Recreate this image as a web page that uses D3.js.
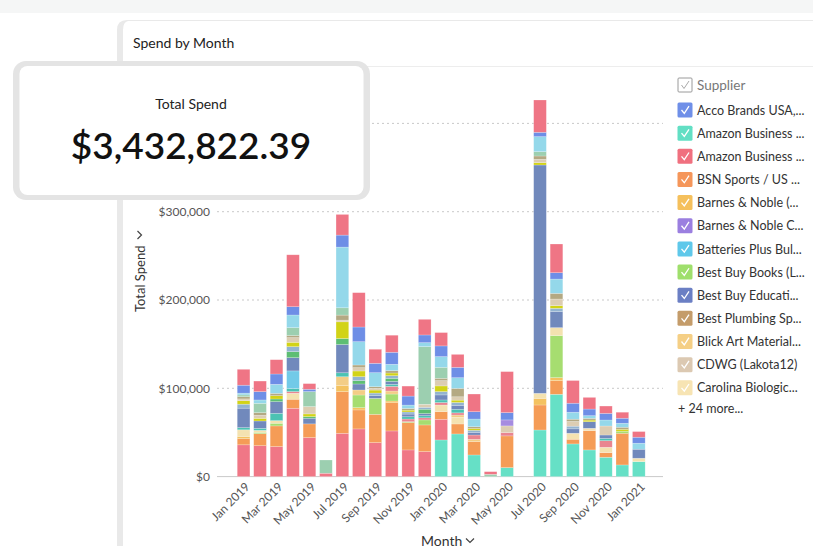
<!DOCTYPE html>
<html>
<head>
<meta charset="utf-8">
<script src="https://cdn.jsdelivr.net/npm/d3@7"></script>
<style>
  html, body { margin: 0; padding: 0; background: #ffffff; }
  svg { display: block; font-family: Lato, "Open Sans", sans-serif; }
</style>
</head>
<body>
<svg id="chart" width="813" height="559"></svg>
<script>
// ---------- DATA ----------
const months = ["Jan 2019","Feb 2019","Mar 2019","Apr 2019","May 2019","Jun 2019","Jul 2019","Aug 2019","Sep 2019","Oct 2019","Nov 2019","Dec 2019",
  "Jan 2020","Feb 2020","Mar 2020","Apr 2020","May 2020","Jun 2020","Jul 2020","Aug 2020","Sep 2020","Oct 2020","Nov 2020","Dec 2020","Jan 2021"];
const tickMonths = ["Jan 2019","Mar 2019","May 2019","Jul 2019","Sep 2019","Nov 2019","Jan 2020","Mar 2020","May 2020","Jul 2020","Sep 2020","Nov 2020","Jan 2021"];
const gridTicks = [0, 100000, 200000, 300000, 400000];
const yTickLabels = [0, 100000, 200000, 300000]; // $400,000 sits behind the KPI card

// series, bottom to top of each stack (US$)
const amazonBusiness1 = [0,0,0,0,0,0,0,0,0,0,0,0,41500,48300,24500,0,10200,0,52800,93200,37000,30200,21900,13200,17000];
const amazonBusiness2 = [36000,35000,34000,77400,44200,3800,49000,54000,38500,51700,30200,28300,23400,0,0,0,0,0,0,0,0,0,0,0,0];
const bsnSports       = [7000,13600,23400,10200,15500,0,47200,21500,32000,32000,31000,30200,8700,11300,15100,0,35900,0,28300,15500,5300,21900,5300,35900,0];
const barnesNoble     = [2500,0,0,0,0,0,6800,2600,0,1900,0,0,0,0,0,0,0,0,7500,3400,0,0,0,0,0];
const bestBuyBooks    = [0,1500,3000,0,0,0,0,14300,18100,7900,1000,5700,0,0,0,0,0,0,0,47600,0,0,0,2300,0];
const carolinaBio     = [7500,2300,3000,6800,0,0,0,0,0,0,0,0,7500,7500,0,0,0,0,5700,9000,6800,2600,6000,0,3800];
const blickArt        = [0,0,0,0,0,0,10100,5700,0,3400,0,0,0,2600,2600,0,0,0,0,0,0,0,0,0,0];
const otherSalmon     = [0,0,0,1900,0,0,0,0,0,5300,3000,2400,2800,2500,4900,0,3800,0,0,0,0,0,7500,0,0];
const otherTeal       = [2500,2300,8300,3400,0,0,4500,0,0,2300,2600,2400,2900,4000,0,0,0,0,0,0,0,0,2600,0,0];
const batteriesPlus   = [0,0,0,20000,0,0,0,0,0,0,0,0,0,0,0,0,0,0,0,0,0,0,0,0,0];
const bestBuyEdu      = [22000,8300,13200,15000,6400,0,32000,6800,3000,3400,3000,2400,5700,4500,3000,0,0,0,258600,18100,5000,7500,3800,0,10200];
const otherGreen      = [0,0,3000,6800,1900,0,6800,3800,0,3400,0,4900,0,0,0,0,0,0,0,0,0,0,0,0,0];
const otherSteel      = [4500,0,0,5700,0,0,0,4500,3000,3000,2400,2200,3800,3300,2400,0,0,0,0,3800,3000,0,0,0,0];
const otherYellow     = [4000,3000,3800,4900,3000,0,18900,6400,3400,3000,2000,0,6400,2600,2000,0,0,0,2600,3000,0,1800,0,2200,0];
const cdwg            = [2000,3400,0,5300,8300,0,1900,3800,2000,0,0,3400,6000,3800,0,0,7500,0,3800,7500,5300,0,10200,0,0];
const bestPlumbing    = [2500,3000,2600,2300,0,0,5700,3000,1800,2700,2000,0,2600,9500,2000,0,0,0,3800,6400,2600,2000,0,2300,0];
const otherSage       = [2000,10600,0,9000,17000,15000,8300,0,0,0,0,65300,12500,0,0,2600,0,0,4900,0,0,0,0,0,0];
const barnesNobleC    = [0,0,0,0,0,0,0,0,0,0,0,0,0,0,0,0,6800,0,0,0,0,0,0,0,0];
const otherSky        = [2000,3800,10200,14300,0,0,68700,26400,15900,7200,3800,4500,12100,12100,8700,0,0,0,17000,16200,7900,3000,6800,4500,6800];
const accoBrands      = [9000,9400,11700,9400,2600,0,13600,16600,10600,13600,10200,8700,12100,11700,8300,0,8300,0,4900,7200,10200,7500,7500,5700,6800];
const otherPink       = [18000,12000,16200,58800,6400,0,23400,38900,15900,19300,11300,17700,15100,14700,20000,3000,46400,0,36600,32500,25700,13200,8300,6800,6400];

const seriesList = [
  ["amazonBusiness1", amazonBusiness1, "#66e0c6"],
  ["amazonBusiness2", amazonBusiness2, "#f07786"],
  ["bsnSports", bsnSports, "#f59c56"],
  ["barnesNoble", barnesNoble, "#f4c260"],
  ["bestBuyBooks", bestBuyBooks, "#a6dd70"],
  ["carolinaBio", carolinaBio, "#f4e2b0"],
  ["blickArt", blickArt, "#f3cd86"],
  ["otherSalmon", otherSalmon, "#e98590"],
  ["otherTeal", otherTeal, "#4cc3b3"],
  ["batteriesPlus", batteriesPlus, "#72cae8"],
  ["bestBuyEdu", bestBuyEdu, "#7189bc"],
  ["otherGreen", otherGreen, "#5dbe73"],
  ["otherSteel", otherSteel, "#93b4d0"],
  ["otherYellow", otherYellow, "#d2d317"],
  ["cdwg", cdwg, "#dccdb2"],
  ["bestPlumbing", bestPlumbing, "#b4a983"],
  ["otherSage", otherSage, "#9ccfb0"],
  ["barnesNobleC", barnesNobleC, "#a68ce0"],
  ["otherSky", otherSky, "#94d8ea"],
  ["accoBrands", accoBrands, "#6e8ee6"],
  ["otherPink", otherPink, "#ef7585"]
];

const legendNames = ["Acco Brands USA,...","Amazon Business ...","Amazon Business ...","BSN Sports / US ...","Barnes & Noble (...",
  "Barnes & Noble C...","Batteries Plus Bul...","Best Buy Books (L...","Best Buy Educati...","Best Plumbing Sp...",
  "Blick Art Material...","CDWG (Lakota12)","Carolina Biologic..."];
const legendColors = ["#6f8fe8","#62dfc4","#f0707f","#f5965a","#f5c05c","#9b7fe0","#5fc8ea","#9fdf6c","#6b7fc4","#c49c6a","#f5cf85","#dcc9b2","#f7e4b3"];

// ---------- CHART ----------
const svg = d3.select("#chart");

// top strip
svg.append("rect").attr("x",0).attr("y",0).attr("width",813).attr("height",13).attr("fill","#f5f6f6");

// card left border
svg.append("path")
  .attr("d","M117,546 L117,30 Q117,20 127,20 L813,20 L813,21 L128,21 Q123,22 123,30 L123,546 Z")
  .attr("fill","#e9e9e9");
svg.append("line").attr("x1",123).attr("x2",813).attr("y1",66.5).attr("y2",66.5).attr("stroke","#ededed").attr("stroke-width",1);
svg.append("text").attr("x",133).attr("y",48).attr("font-size",14).attr("fill","#222").text("Spend by Month");

const rows = months.map((m,i) => {
  const r = {month: m};
  seriesList.forEach(([k, arr]) => r[k] = arr[i]);
  return r;
});
const keys = seriesList.map(s => s[0]);
const colorOf = Object.fromEntries(seriesList.map(s => [s[0], s[2]]));
const stacked = d3.stack().keys(keys)(rows);

const x = d3.scaleBand().domain(months).range([229, 653.4]).paddingInner(0.23).paddingOuter(0.5);
const y = d3.scaleLinear().domain([0, 400000]).range([476.6, 123.4]);

// gridlines
const grid = svg.append("g");
gridTicks.forEach(t => {
  grid.append("line").attr("x1",217).attr("x2",663).attr("y1",y(t)).attr("y2",y(t))
    .attr("stroke", "#c9c9c9").attr("stroke-width",1)
    .attr("stroke-dasharray", t === 0 ? null : "2,3");
});

// y axis labels via d3 axis
const yAxis = d3.axisLeft(y).tickValues(yTickLabels).tickSize(0).tickPadding(0)
  .tickFormat(v => "$" + d3.format(",")(v));
const yg = svg.append("g").attr("transform","translate(210,0)").call(yAxis);
yg.select(".domain").remove();
yg.selectAll("text").attr("font-size",12).attr("fill","#555").attr("font-family","Lato, sans-serif");

// bars
const barG = svg.append("g");
stacked.forEach(layer => {
  barG.append("g").selectAll("rect")
    .data(layer.filter(d => d[1] - d[0] > 0))
    .join("rect")
    .attr("x", d => x(d.data.month))
    .attr("width", x.bandwidth())
    .attr("y", d => y(d[1]))
    .attr("height", d => y(d[0]) - y(d[1]))
    .attr("fill", colorOf[layer.key])
    .attr("stroke", "#ffffff").attr("stroke-opacity",0.35).attr("stroke-width",0.6);
});

// x axis labels
const xAxis = d3.axisBottom(x).tickValues(tickMonths).tickSize(0).tickPadding(0);
const xg = svg.append("g").attr("transform","translate(0,476.6)").call(xAxis);
xg.select(".domain").remove();
xg.selectAll("text")
  .attr("font-size",12).attr("fill","#555").attr("font-family","Lato, sans-serif")
  .attr("text-anchor","end")
  .attr("transform","translate(4,8) rotate(-45)")
  .attr("dy","0.35em").attr("dx","0");

// axis titles
svg.append("text").attr("x",421).attr("y",546).attr("font-size",14).attr("fill","#333").text("Month");
svg.append("path").attr("d","M466,538.5 L470,542.5 L474,538.5").attr("fill","none").attr("stroke","#444").attr("stroke-width",1.2);
const yt = svg.append("g").attr("transform","translate(145,312) rotate(-90)");
yt.append("text").attr("x",0).attr("y",0).attr("font-size",13).attr("fill","#333").text("Total Spend");
yt.append("path").attr("d","M73,-7.5 L77,-3.5 L81,-7.5").attr("fill","none").attr("stroke","#444").attr("stroke-width",1.2);

// legend
const lg = svg.append("g");
lg.append("rect").attr("x",678).attr("y",78).attr("width",14).attr("height",14).attr("rx",1)
  .attr("fill","#fff").attr("stroke","#9a9a9a").attr("stroke-width",1);
lg.append("path").attr("d","M681.5,85 L684,88.5 L689,81").attr("fill","none").attr("stroke","#aaa").attr("stroke-width",1);
lg.append("text").attr("x",697).attr("y",90).attr("font-size",13.5).attr("fill","#777").text("Supplier");
legendNames.forEach((n,i) => {
  const cy = 110 + i*23.15;
  lg.append("rect").attr("x",677.5).attr("y",cy-7.5).attr("width",15).attr("height",15).attr("rx",1.5).attr("fill",legendColors[i]);
  lg.append("path").attr("d",`M681.5,${cy} L684.3,${cy+3.3} L689,${cy-3.8}`).attr("fill","none").attr("stroke","#fff").attr("stroke-width",1.3);
  lg.append("text").attr("x",697).attr("y",cy+4.6).attr("font-size",12.5).attr("fill","#333").text(n);
});
lg.append("text").attr("x",678).attr("y",413).attr("font-size",12.5).attr("fill","#333").text("+ 24 more...");

// overlay KPI card
const card = svg.append("g");
card.append("rect").attr("x",13).attr("y",61).attr("width",357).attr("height",139).attr("rx",13).attr("fill","#e4e4e4");
card.append("rect").attr("x",19.5).attr("y",66).attr("width",344).attr("height",129).attr("rx",8).attr("fill","#ffffff");
card.append("text").attr("x",191).attr("y",109).attr("text-anchor","middle").attr("font-size",14).attr("fill","#222").text("Total Spend");
card.append("text").attr("x",191).attr("y",159).attr("text-anchor","middle").attr("font-size",37).attr("font-weight",600).attr("fill","#111").text("$3,432,822.39");
</script>
</body>
</html>
